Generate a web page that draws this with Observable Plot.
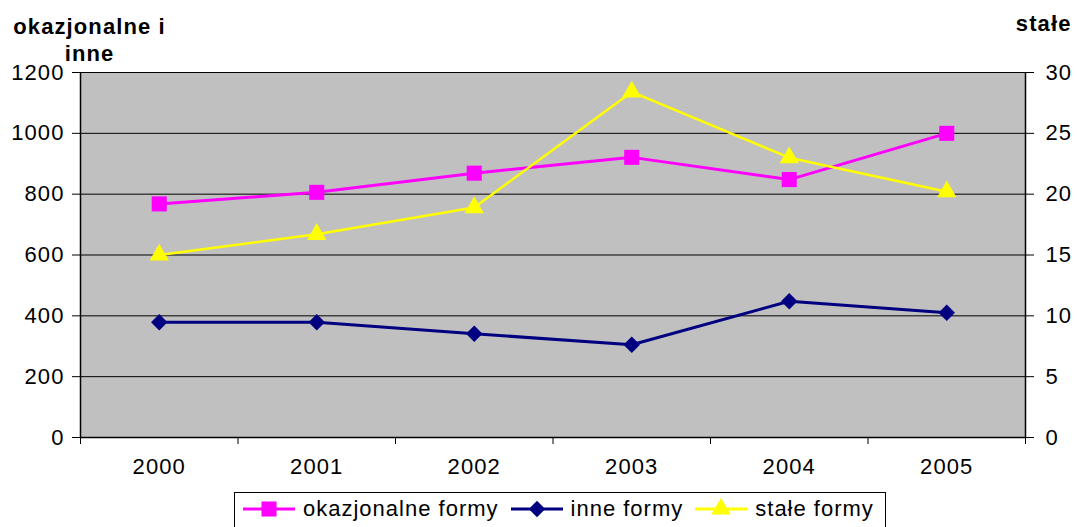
<!DOCTYPE html>
<html><head><meta charset="utf-8">
<script src="https://cdn.jsdelivr.net/npm/d3@7"></script>
<script src="https://cdn.jsdelivr.net/npm/@observablehq/plot@0.6"></script>
<style>
body{margin:0;background:#fff;font-family:"Liberation Sans",Arial,sans-serif;}
#chart svg text{letter-spacing:1.1px;}
#legend{position:absolute;left:234px;top:492px;width:652px;height:40px;border:1px solid #000;box-sizing:border-box;display:flex;flex-wrap:nowrap;align-items:center;font-size:22px;letter-spacing:1px;padding-left:8px;padding-bottom:6px;white-space:nowrap;overflow:hidden;}
#legend .item{display:flex;align-items:center;margin-right:12px;flex-shrink:0;white-space:nowrap;}
#legend svg{margin-right:8px;flex-shrink:0;}
</style></head><body><div id="chart"></div><div id="legend"></div>
<script>
const years = ["2000","2001","2002","2003","2004","2005"];
const okazjonalne = [768, 806, 869, 921, 848, 1000];
const inne = [379, 379, 341, 305, 448, 410];
const stale = [15.0, 16.7, 18.9, 28.4, 23.0, 20.2];
const leftTicks = [0, 200, 400, 600, 800, 1000, 1200];
const rightTicks = [0, 5, 10, 15, 20, 25, 30];
const seriesNames = ["okazjonalne formy", "inne formy", "stałe formy"];
const colors = ["#FF00FF", "#000080", "#FFFF00"];
const symbols = ["square", "diamond2", "triangle"];
const radii = [8.5, 7.4, 7.2];
const leftMax = 1200, rightMax = 30;
const ratio = leftMax / rightMax;

const seriesValues = [okazjonalne, inne, stale.map(v => v * ratio)];
const rows = [];
seriesNames.forEach((s, si) => seriesValues[si].forEach((v, i) => rows.push({series: s, x: i, y: v})));
const idx = d3.range(years.length);
const bounds = d3.range(years.length + 1).map(i => i - 0.5);

const marks = [
  Plot.frame({fill: "#C0C0C0", stroke: "none"}),
  Plot.gridY(leftTicks, {stroke: "#000", strokeOpacity: 1, strokeWidth: 1}),
  Plot.ruleX([bounds[0], bounds[bounds.length - 1]], {stroke: "#000", strokeWidth: 1.5}),
  Plot.ruleY([0], {stroke: "#000", strokeWidth: 1.5}),
  Plot.axisY(leftTicks, {anchor: "left", tickSize: 8, tickPadding: 8, label: null, tickFormat: d => String(d), stroke: "#000"}),
  Plot.axisY(rightTicks.map(v => v * ratio), {anchor: "right", tickSize: 8, tickPadding: 12, label: null, tickFormat: d => String(d / ratio), stroke: "#000"}),
  Plot.axisX(bounds, {tickSize: 7, tickFormat: () => "", label: null, stroke: "#000"}),
  Plot.axisX(idx, {tickSize: 0, tickPadding: 21, tickFormat: i => years[i], label: null}),
];
seriesNames.forEach((s, si) => {
  const data = rows.filter(d => d.series === s);
  marks.push(Plot.line(data, {x: "x", y: "y", stroke: colors[si], strokeWidth: si === 2 ? 2.5 : 3}));
  marks.push(Plot.dot(data, {x: "x", y: "y", symbol: () => symbols[si], fill: colors[si], stroke: "none", r: radii[si]}));
});
marks.push(Plot.text(["okazjonalne i\ninne"], {frameAnchor: "top-left", textAnchor: "middle", lineAnchor: "top", dx: 9, dy: -57, fontWeight: "bold", fontSize: 22, lineHeight: 1.2}));
marks.push(Plot.text(["stałe"], {frameAnchor: "top-right", textAnchor: "end", lineAnchor: "top", dx: 46, dy: -57, fontWeight: "bold", fontSize: 22}));

const chart = Plot.plot({
  width: 1077, height: 490,
  marginLeft: 80, marginRight: 52, marginTop: 72, marginBottom: 53,
  x: {type: "linear", domain: [bounds[0], bounds[bounds.length - 1]]},
  y: {domain: [0, leftMax]},
  symbol: {type: "identity"},
  style: {fontFamily: '"Liberation Sans", Arial, sans-serif', fontSize: "22px", color: "#000", background: "#fff", overflow: "visible"},
  marks
});
document.getElementById("chart").append(chart);

const legend = d3.select("#legend");
seriesNames.forEach((s, si) => {
  const item = legend.append("div").attr("class", "item");
  const sv = item.append("svg").attr("width", 52).attr("height", 22);
  sv.append("line").attr("x1", 0).attr("x2", 52).attr("y1", 11).attr("y2", 11).attr("stroke", colors[si]).attr("stroke-width", 3);
  const symType = [d3.symbolSquare, d3.symbolDiamond2, d3.symbolTriangle][si];
  sv.append("path").attr("transform", "translate(26,11)").attr("d", d3.symbol(symType, Math.PI * radii[si] * radii[si])()).attr("fill", colors[si]);
  item.append("span").text(s);
});
</script></body></html>
